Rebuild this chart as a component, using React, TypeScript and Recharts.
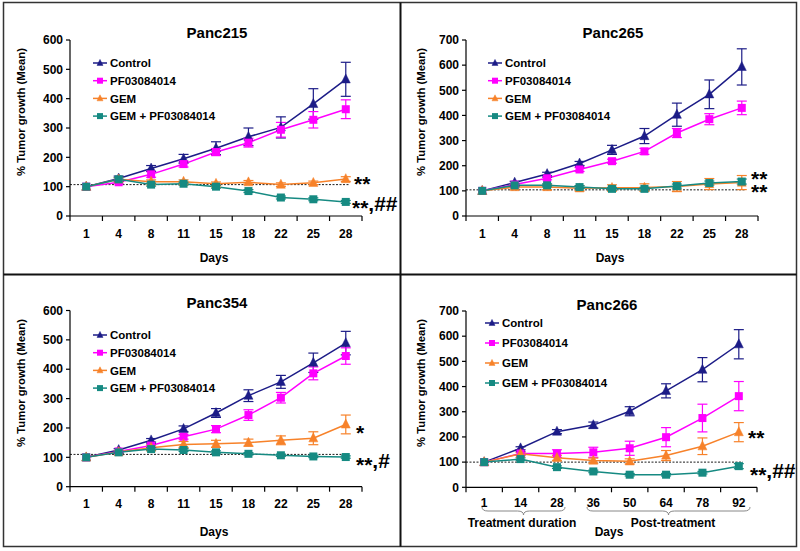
import React from "react";
import { LineChart, Line, XAxis, YAxis, ErrorBar, ReferenceLine } from "recharts";

// x categories
const daysA = ["1", "4", "8", "11", "15", "18", "22", "25", "28"];
const days266 = ["1", "14", "28", "36", "50", "64", "78", "92"];

// Panc215
const p215Control = [100, 128, 162, 195, 231, 270, 302, 382, 466];
const p215ControlErr = [0, 8, 10, 15, 22, 30, 36, 52, 58];
const p215Pf = [100, 115, 142, 177, 218, 250, 294, 328, 364];
const p215PfErr = [0, 5, 10, 10, 12, 15, 25, 28, 32];
const p215Gem = [100, 125, 117, 117, 110, 115, 107, 113, 126];
const p215GemErr = [0, 6, 6, 6, 6, 6, 6, 6, 8];
const p215Combo = [100, 125, 107, 110, 100, 85, 63, 57, 48];
const p215ComboErr = [0, 5, 5, 5, 5, 5, 5, 5, 5];

// Panc265
const p265Control = [100, 133, 167, 209, 263, 318, 403, 484, 593];
const p265ControlErr = [0, 5, 7, 8, 18, 30, 46, 57, 72];
const p265Pf = [100, 125, 150, 185, 218, 257, 330, 385, 430];
const p265PfErr = [0, 5, 6, 8, 8, 12, 18, 22, 27];
const p265Gem = [100, 115, 115, 110, 112, 113, 117, 127, 133];
const p265GemErr = [0, 8, 10, 10, 12, 15, 20, 22, 28];
const p265Combo = [100, 122, 122, 115, 108, 108, 119, 131, 137];
const p265ComboErr = [0, 6, 6, 6, 6, 6, 8, 8, 10];

// Panc354
const p354Control = [100, 125, 158, 197, 251, 310, 357, 422, 489];
const p354ControlErr = [0, 5, 6, 10, 15, 20, 22, 33, 40];
const p354Pf = [100, 120, 140, 170, 196, 244, 303, 386, 445];
const p354PfErr = [0, 4, 5, 8, 12, 18, 18, 22, 28];
const p354Gem = [100, 118, 133, 144, 146, 150, 158, 165, 212];
const p354GemErr = [0, 5, 8, 10, 12, 12, 15, 22, 32];
const p354Combo = [100, 117, 128, 125, 117, 112, 107, 103, 101];
const p354ComboErr = [0, 4, 5, 5, 5, 4, 4, 4, 4];

// Panc266
const p266Control = [100, 155, 221, 247, 302, 383, 467, 568];
const p266ControlErr = [0, 6, 8, 12, 18, 28, 48, 58];
const p266Pf = [100, 134, 134, 139, 155, 199, 275, 362];
const p266PfErr = [0, 8, 15, 20, 28, 38, 55, 58];
const p266Gem = [100, 133, 117, 106, 103, 126, 163, 219];
const p266GemErr = [0, 5, 10, 10, 10, 20, 33, 38];
const p266Combo = [100, 112, 80, 63, 50, 50, 58, 84];
const p266ComboErr = [0, 5, 5, 5, 5, 5, 5, 10];

const seriesNames = ["Control", "PF03084014", "GEM", "GEM + PF03084014"];

const FONT = '"Liberation Sans", Arial, sans-serif';
const C_CONTROL = "#1c1c87";
const C_PF = "#ff00ff";
const C_GEM = "#f7822a";
const C_COMBO = "#168a82";
const colors = [C_CONTROL, C_PF, C_GEM, C_COMBO];
const shapes = ["tri", "sq", "tri", "sq"];

function buildRows(days: string[], vals: number[][], errs: number[][]) {
  return days.map((d, i) => ({
    day: d,
    control: vals[0][i],
    controlErr: errs[0][i],
    pf: vals[1][i],
    pfErr: errs[1][i],
    gem: vals[2][i],
    gemErr: errs[2][i],
    combo: vals[3][i],
    comboErr: errs[3][i],
  }));
}

function marker(shape: string, color: string, cx: number, cy: number, s: number, key?: any) {
  if (shape === "tri") {
    return (
      <path
        key={key}
        d={`M${cx},${cy - s * 0.6}L${cx + s / 2},${cy + s * 0.4}L${cx - s / 2},${cy + s * 0.4}Z`}
        fill={color}
        stroke={color}
        strokeWidth={0.5}
      />
    );
  }
  return <rect key={key} x={cx - s / 2} y={cy - s / 2} width={s} height={s} fill={color} />;
}

const dotFn = (shape: string, color: string) => (p: any) => {
  const { cx, cy, index } = p;
  if (cx == null || cy == null) return <g key={index} />;
  return marker(shape, color, cx, cy, shape === "tri" ? 9 : 8, index);
};

function XTick(props: any) {
  const { x, y, payload, index, band, count, gap } = props;
  const ay = y - gap;
  const lx = x - band / 2;
  return (
    <g>
      <line x1={lx} y1={ay} x2={lx} y2={ay + 5} stroke="#000" strokeWidth={1.2} />
      {index === count - 1 && (
        <line x1={x + band / 2} y1={ay} x2={x + band / 2} y2={ay + 5} stroke="#000" strokeWidth={1.2} />
      )}
      <text x={x} y={y} dy="0.71em" textAnchor="middle" fontSize={12} fontWeight="bold" fill="#000" fontFamily={FONT}>
        {payload.value}
      </text>
    </g>
  );
}

function Legend4({ x, y, gap }: { x: number; y: number; gap: number }) {
  return (
    <svg style={{ position: "absolute", left: x, top: y - 8, overflow: "visible" }} width={130} height={gap * 4}>
      {seriesNames.map((n, i) => (
        <g key={n} transform={`translate(0, ${8 + i * gap})`}>
          <line x1={0} y1={0} x2={14} y2={0} stroke={colors[i]} strokeWidth={1.5} />
          {marker(shapes[i], colors[i], 7, 0, 6)}
          <text x={17} y={0} dy="0.36em" fontSize={11.5} fontWeight="bold" fill="#000" fontFamily={FONT}>
            {n}
          </text>
        </g>
      ))}
    </svg>
  );
}

type Note = { stars: string; rest?: string; x: number; y: number; lh?: number };

function Panel(props: {
  left: number;
  top: number;
  h: number;
  title: string;
  titleX: number;
  titleY: number;
  days: string[];
  vals: number[][];
  errs: number[][];
  yMax: number;
  margin: { top: number; right: number; bottom: number; left: number };
  yw: number;
  tickGap: number;
  refY: number;
  refTrim: number;
  legend: { x: number; y: number; gap: number };
  yLabelY: number;
  daysY: number;
  daysX: number;
  notes: Note[];
  extra?: React.ReactNode;
}) {
  const { margin, yw, days } = props;
  const rows = buildRows(days, props.vals, props.errs);
  const band = (400 - margin.left - margin.right - yw) / days.length;
  const ticks: number[] = [];
  for (let v = 0; v <= props.yMax; v += 100) ticks.push(v);
  const keys = ["control", "pf", "gem", "combo"];
  return (
    <div
      style={{
        position: "absolute",
        left: props.left,
        top: props.top,
        width: 400,
        height: props.h,
        fontFamily: FONT,
        overflow: "hidden",
      }}
    >
      <LineChart width={400} height={props.h} data={rows} margin={margin}>
        <XAxis
          dataKey="day"
          scale="band"
          height={30}
          tickLine={false}
          tickSize={0}
          tickMargin={props.tickGap}
          interval={0}
          axisLine={{ stroke: "#000", strokeWidth: 1.2 }}
          tick={<XTick band={band} count={days.length} gap={props.tickGap} />}
        />
        <YAxis
          width={yw}
          domain={[0, props.yMax]}
          ticks={ticks}
          interval={0}
          tickSize={4}
          tickMargin={3}
          axisLine={{ stroke: "#000", strokeWidth: 1.2 }}
          tickLine={{ stroke: "#000", strokeWidth: 1.2 }}
          tick={{ fontSize: 12, fontWeight: "bold", fill: "#000", fontFamily: FONT }}
        />
        <ReferenceLine
          y={props.refY}
          stroke="#000"
          shape={(p: any) => (
            <line
              x1={p.x1}
              y1={p.y1}
              x2={p.x2 - props.refTrim}
              y2={p.y2}
              stroke="#000"
              strokeWidth={0.9}
              strokeDasharray="2 1.5"
            />
          )}
        />
        {keys.map((k, i) => (
          <Line
            key={k}
            dataKey={k}
            stroke={colors[i]}
            strokeWidth={1.5}
            isAnimationActive={false}
            dot={dotFn(shapes[i], colors[i])}
            activeDot={false}
          >
            <ErrorBar dataKey={k + "Err"} width={5} stroke={colors[i]} strokeWidth={1.2} direction="y" isAnimationActive={false} />
          </Line>
        ))}
      </LineChart>
      <div
        style={{
          position: "absolute",
          left: props.titleX,
          top: props.titleY,
          transform: "translate(-50%, -50%)",
          fontSize: 15,
          fontWeight: "bold",
          whiteSpace: "nowrap",
        }}
      >
        {props.title}
      </div>
      <div
        style={{
          position: "absolute",
          left: 21,
          top: props.yLabelY,
          transform: "translate(-50%, -50%) rotate(-90deg)",
          fontSize: 11.3,
          fontWeight: "bold",
          whiteSpace: "nowrap",
        }}
      >
        % Tumor growth (Mean)
      </div>
      <div
        style={{
          position: "absolute",
          left: props.daysX,
          top: props.daysY,
          transform: "translate(-50%, -50%)",
          fontSize: 12,
          fontWeight: "bold",
        }}
      >
        Days
      </div>
      <Legend4 x={props.legend.x} y={props.legend.y} gap={props.legend.gap} />
      {props.notes.map((n, i) => {
        const lh = n.lh ?? 21;
        return (
          <div
            key={i}
            style={{
              position: "absolute",
              left: n.x,
              top: n.y - lh / 2,
              fontSize: 21,
              fontWeight: "bold",
              whiteSpace: "pre",
              lineHeight: `${lh}px`,
            }}
          >
            <span style={{ position: "relative", top: 4 }}>{n.stars}</span>
            {n.rest}
          </div>
        );
      })}
      {props.extra}
    </div>
  );
}

function Brace({ x1, x2, y }: { x1: number; x2: number; y: number }) {
  const m = (x1 + x2) / 2;
  const d = `M${x1},${y} Q${x1},${y + 4} ${x1 + 6},${y + 4} L${m - 6},${y + 4} Q${m},${y + 4} ${m},${y + 8} Q${m},${y + 4} ${m + 6},${y + 4} L${x2 - 6},${y + 4} Q${x2},${y + 4} ${x2},${y}`;
  return <path d={d} fill="none" stroke="#888" strokeWidth={1} />;
}

export default function App() {
  const extra266 = (
    <>
      <svg style={{ position: "absolute", left: 0, top: 0 }} width={400} height={276}>
        <Brace x1={82} x2={165} y={232} />
        <Brace x1={187} x2={350} y={232} />
      </svg>
      <div
        style={{
          position: "absolute",
          left: 122,
          top: 248,
          transform: "translate(-50%, -50%)",
          fontSize: 12,
          fontWeight: "bold",
          whiteSpace: "nowrap",
        }}
      >
        Treatment duration
      </div>
      <div
        style={{
          position: "absolute",
          left: 273,
          top: 248,
          transform: "translate(-50%, -50%)",
          fontSize: 12,
          fontWeight: "bold",
          whiteSpace: "nowrap",
        }}
      >
        Post-treatment
      </div>
    </>
  );

  return (
    <div style={{ position: "absolute", left: 0, top: 0, width: 800, height: 551, background: "#fff", overflow: "hidden" }}>
      <Panel
        left={0}
        top={0}
        h={275}
        title="Panc215"
        titleX={217}
        titleY={32}
        days={daysA}
        vals={[p215Control, p215Pf, p215Gem, p215Combo]}
        errs={[p215ControlErr, p215PfErr, p215GemErr, p215ComboErr]}
        yMax={600}
        margin={{ top: 40, right: 38, bottom: 29, left: 0 }}
        yw={70}
        tickGap={13}
        refY={107}
        refTrim={12}
        legend={{ x: 93, y: 63, gap: 17.7 }}
        yLabelY={112}
        daysX={214}
        daysY={258}
        notes={[
          { stars: "**", x: 354, y: 179 },
          { stars: "**", rest: ",##", x: 352, y: 203 },
        ]}
      />
      <Panel
        left={400}
        top={0}
        h={275}
        title="Panc265"
        titleX={213}
        titleY={32}
        days={daysA}
        vals={[p265Control, p265Pf, p265Gem, p265Combo]}
        errs={[p265ControlErr, p265PfErr, p265GemErr, p265ComboErr]}
        yMax={700}
        margin={{ top: 40, right: 42, bottom: 29, left: 0 }}
        yw={66}
        tickGap={13}
        refY={104}
        refTrim={12}
        legend={{ x: 88, y: 63, gap: 17.7 }}
        yLabelY={112}
        daysX={210}
        daysY={258}
        notes={[{ stars: "**\n**", x: 351, y: 174, lh: 13 }]}
      />
      <Panel
        left={0}
        top={275}
        h={276}
        title="Panc354"
        titleX={217}
        titleY={27}
        days={daysA}
        vals={[p354Control, p354Pf, p354Gem, p354Combo]}
        errs={[p354ControlErr, p354PfErr, p354GemErr, p354ComboErr]}
        yMax={600}
        margin={{ top: 35.5, right: 38, bottom: 34.3, left: 0 }}
        yw={70}
        tickGap={13}
        refY={110}
        refTrim={12}
        legend={{ x: 93, y: 60, gap: 17.7 }}
        yLabelY={108}
        daysX={214}
        daysY={257}
        notes={[
          { stars: "*", x: 356, y: 153 },
          { stars: "**", rest: ",#", x: 356, y: 185 },
        ]}
      />
      <Panel
        left={400}
        top={275}
        h={276}
        title="Panc266"
        titleX={207}
        titleY={29}
        days={days266}
        vals={[p266Control, p266Pf, p266Gem, p266Combo]}
        errs={[p266ControlErr, p266PfErr, p266GemErr, p266ComboErr]}
        yMax={700}
        margin={{ top: 36, right: 43, bottom: 33.7, left: 0 }}
        yw={66}
        tickGap={11}
        refY={100}
        refTrim={14}
        legend={{ x: 85, y: 48, gap: 20 }}
        yLabelY={107.5}
        daysX={209}
        daysY={257}
        notes={[
          { stars: "**", x: 348, y: 158 },
          { stars: "**", rest: ",##", x: 350, y: 195 },
        ]}
        extra={extra266}
      />
      <svg style={{ position: "absolute", left: 0, top: 0, pointerEvents: "none" }} width={800} height={551}>
        <rect x={3.5} y={2.5} width={793} height={544} fill="none" stroke="#333" strokeWidth={1.5} />
        <line x1={400.5} y1={2.5} x2={400.5} y2={546.5} stroke="#111" strokeWidth={2} />
        <line x1={3.5} y1={274.5} x2={796.5} y2={274.5} stroke="#111" strokeWidth={2} />
      </svg>
    </div>
  );
}
